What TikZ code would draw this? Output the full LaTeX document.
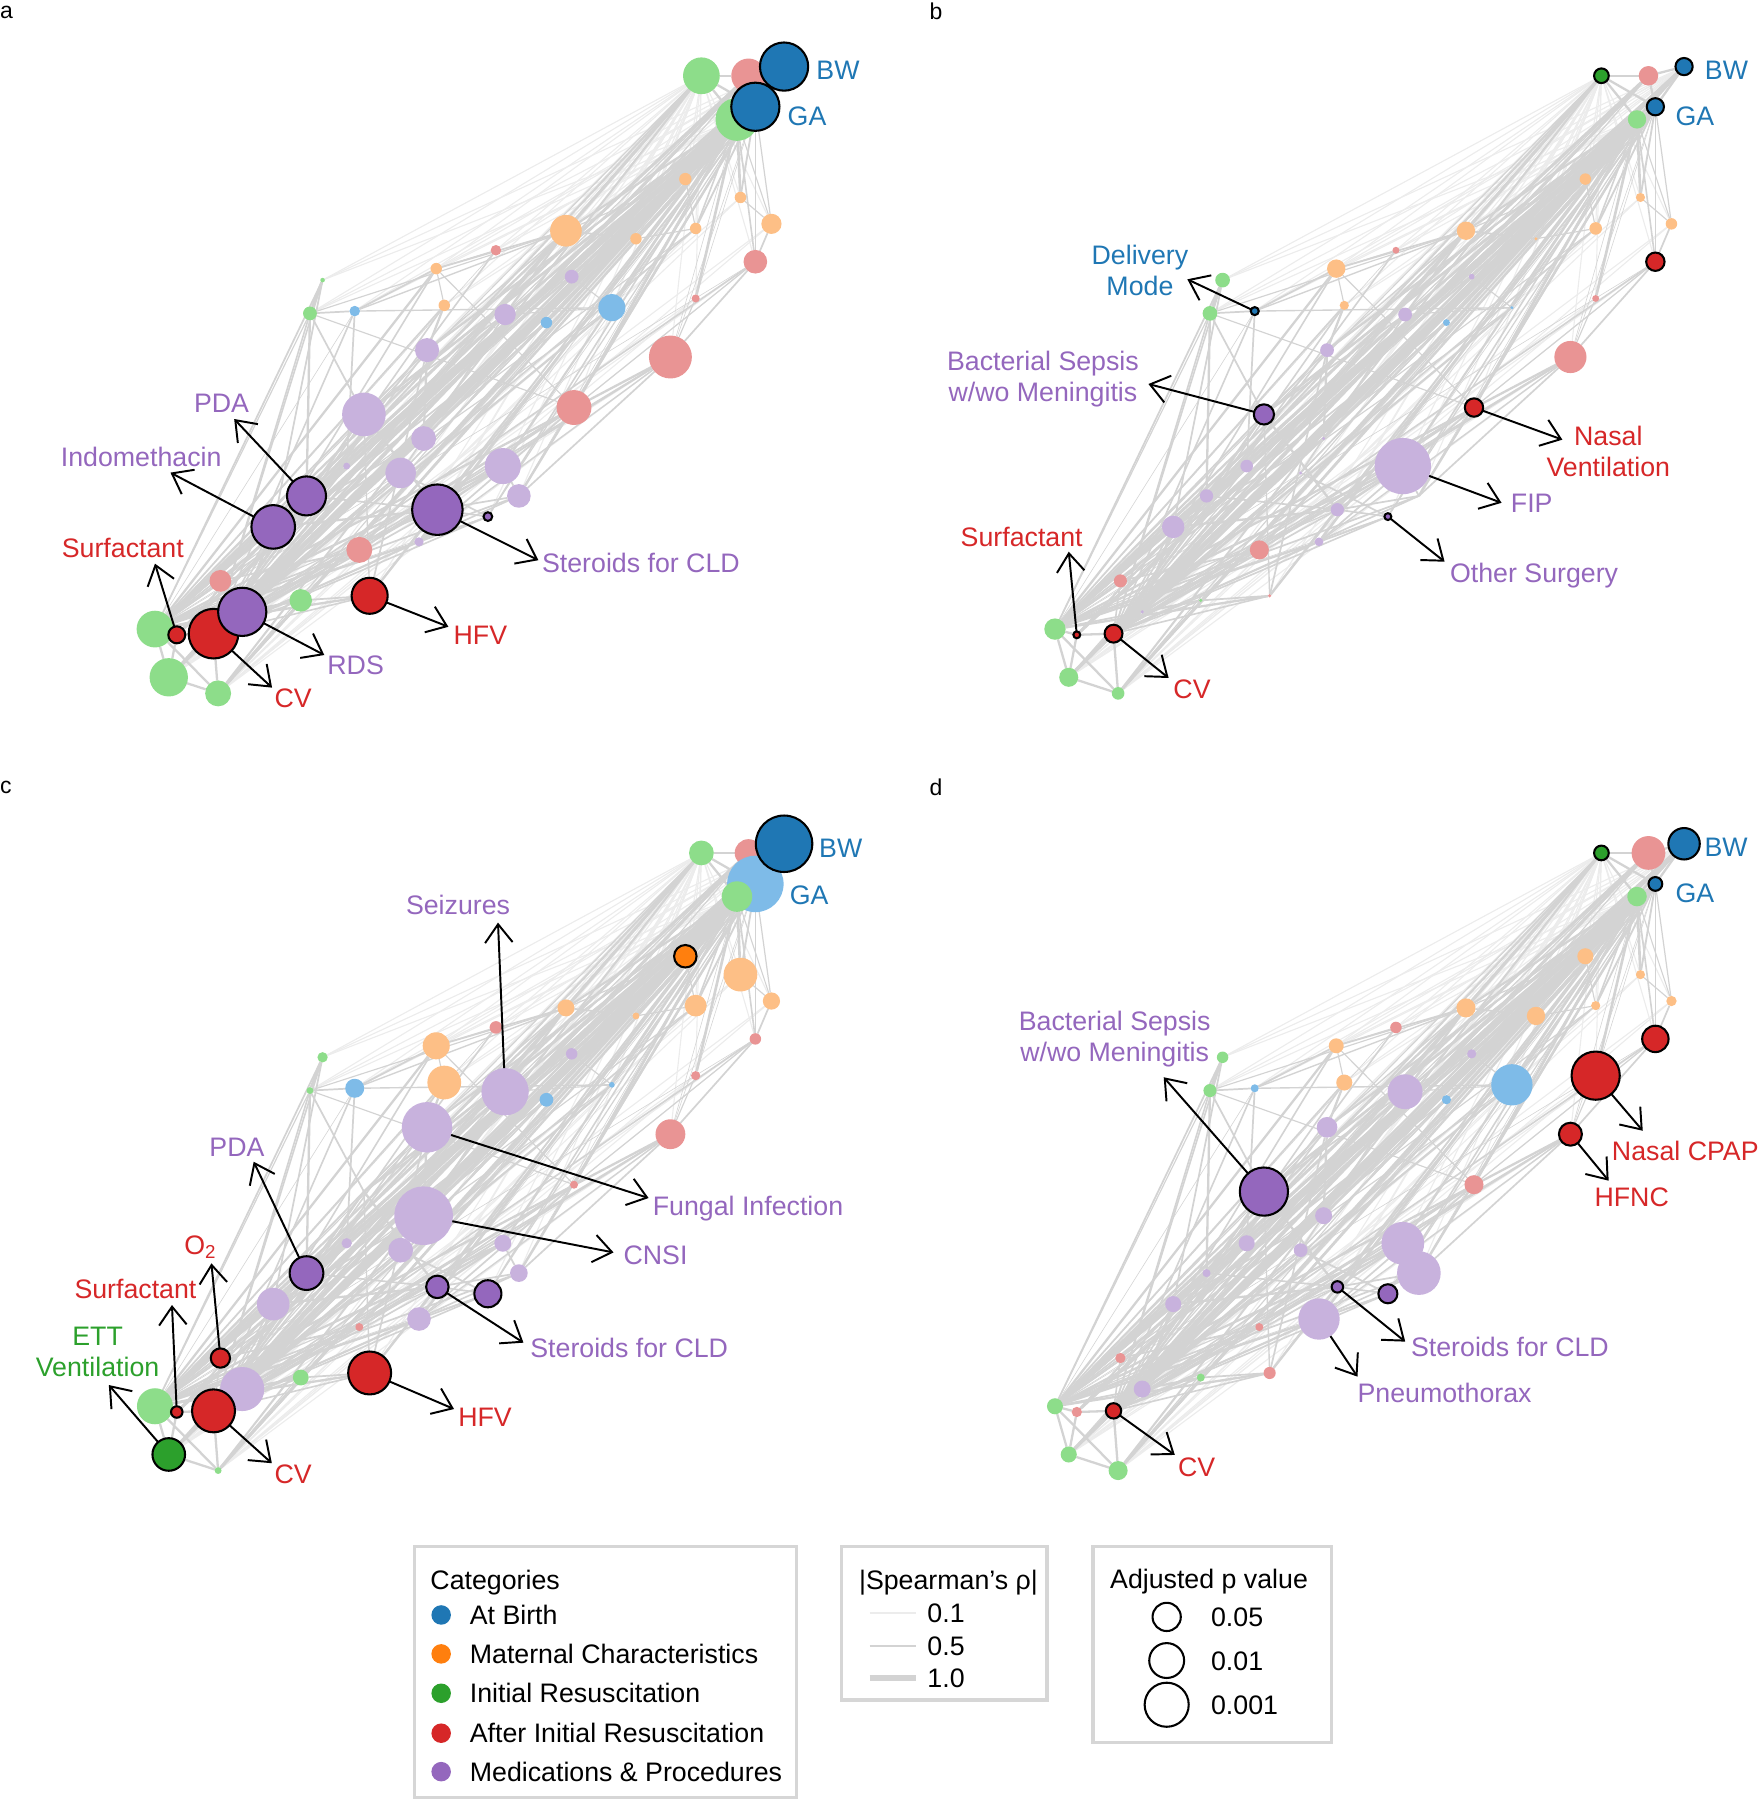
\documentclass[tikz,border=0pt]{standalone}
\usepackage{fontspec}
\setmainfont{Liberation Sans}
\usetikzlibrary{arrows.meta}
\pgfdeclarelayer{bg}
\pgfsetlayers{bg,main}
\definecolor{dB}{HTML}{1F77B4}
\definecolor{dO}{HTML}{FF7F0E}
\definecolor{dG}{HTML}{2CA02C}
\definecolor{dR}{HTML}{D62728}
\definecolor{dP}{HTML}{9467BD}
\definecolor{lB}{HTML}{7EBBE8}
\definecolor{lO}{HTML}{FDBF86}
\definecolor{lG}{HTML}{8DDD8A}
\definecolor{lR}{HTML}{E99494}
\definecolor{lP}{HTML}{C8B2DD}
\definecolor{edgeS}{HTML}{D3D3D3}
\definecolor{edgeF}{HTML}{ECECEC}
\definecolor{legc}{HTML}{D6D6D6}
\definecolor{tB}{HTML}{1F77B4}
\definecolor{tR}{HTML}{D62728}
\definecolor{tP}{HTML}{9467BD}
\definecolor{tG}{HTML}{2CA02C}

\newcommand\panelnodes[4]{%
  \foreach \ii/\kk/\rr/\hh in {#4} {%
    \ifnum\hh=0
      \node[nd, minimum size=2*\rr, fill=l\kk] (#1\ii) at ([shift={(#2,#3)}]base\ii) {};
    \fi
  }%
  \foreach \ii/\kk/\rr/\hh in {#4} {%
    \ifnum\hh=1
      \node[nd, minimum size=2*\rr, fill=d\kk, draw=black, line width=1.8pt] (#1\ii) at ([shift={(#2,#3)}]base\ii) {};
    \fi
  }%
}

\newcommand\netedges[1]{%
  \foreach \m in {6,...,42} {\draw[fedge] (#1\m) -- (#11);}
  \foreach \m in {12,13,14,18,19,20,9,21,24} {\draw[fedge] (#1\m) -- (#14); \draw[fedge] (#1\m) -- (#13);}
  \foreach \m in {6,7,8,10,11,16,17,25,32,23} {\draw[fedge] (#1\m) -- (#146); \draw[fedge] (#1\m) -- (#147);}
  \foreach \m in {6,7,8,9,10,11,15,16,17,21,22,23,24,25,26,27,28,29,30,31,32,33,34,35,36,37,38,39,40,41,42} {
    \pgfmathsetmacro\wa{0.5+mod(\m*7,5)*0.45}
    \pgfmathsetmacro\wb{0.5+mod(\m*3+1,4)*0.55}
    \draw[sedge,line width=\wa] (#1\m) -- (#14);
    \draw[sedge,line width=\wb] (#1\m) -- (#15);
  }
  \foreach \m in {9,12,13,14,15,18,19,20,21,22,23,24,26,27,28,29,30,31,32,33,34,35,36,37,38,39,40,41,42,25,16,6,11} {
    \pgfmathsetmacro\wc{0.5+mod(\m*5+2,5)*0.45}
    \pgfmathsetmacro\wd{0.5+mod(\m*11,4)*0.5}
    \draw[sedge,line width=\wc] (#1\m) -- (#145);
    \draw[sedge,line width=\wd] (#1\m) -- (#143);
  }
  \foreach \tp in {1,...,5} {\foreach \bt in {43,...,47} {
    \pgfmathsetmacro\we{1+mod(\tp*2+\bt,3)*0.8}
    \draw[sedge,line width=\we] (#1\tp) -- (#1\bt);}}
  \foreach \p/\q in {1/2,2/3,1/4,1/5,4/5,2/5,3/5,43/44,44/45,43/46,46/47,45/47,43/47,45/46,44/46} {\draw[sedge,line width=2] (#1\p) -- (#1\q);}
  \foreach \p/\q/\w in {9/13/1.5, 9/21/2, 9/24/1.2, 13/14/1, 13/20/1.5, 14/24/2, 20/19/1.5, 18/19/2.5, 19/26/1.5, 19/33/2, 18/34/1.5, 20/31/1.5, 12/13/1, 16/8/1.5, 16/25/1.5, 16/32/1, 25/38/1.5, 25/37/1.2, 25/30/1.5, 32/37/1.5, 32/38/1.2, 23/21/1, 23/15/1, 21/27/1.5, 24/27/2, 27/28/1.5, 28/36/1.5, 29/35/2, 30/35/1.5, 35/36/1.5, 26/33/2, 33/34/2, 34/42/2.5, 35/41/2, 41/40/1.5, 38/39/1.5, 40/42/2, 26/21/1.5, 22/28/1, 17/25/1, 11/10/1, 6/9/1, 6/11/1, 7/8/1, 10/9/1.5, 15/21/1, 31/33/1.5, 36/37/1.5, 29/30/1.5, 24/26/1.5, 26/35/2, 33/35/1.5, 34/35/2, 28/42/1.5, 27/34/1.5, 21/34/1, 9/42/1.5, 23/42/1.5, 24/41/1.5, 26/41/1.2, 32/42/1.5, 29/42/1.5, 20/9/1.2, 20/23/1.2, 19/9/1, 19/32/1, 13/32/1} {\draw[sedge,line width=\w] (#1\p) -- (#1\q);}
}

\begin{document}
\begin{tikzpicture}[x=1pt,y=-1pt,
  nd/.style={circle, inner sep=0pt, outer sep=0pt},
  sedge/.style={draw=edgeS},
  fedge/.style={draw=edgeF, line width=1pt},
  lab/.style={font=\fontsize{23.3}{27}\selectfont, inner sep=0pt},
  arr/.style={draw=black, line width=1.7pt, -{Straight Barb[length=16pt,width=24pt]}},
  legbox/.style={draw=legc, line width=3pt},
  letter/.style={font=\fontsize{20}{24}\selectfont, inner sep=0pt, anchor=base west}]
\useasboundingbox (0,0) rectangle (1532,1568);

\foreach \i/\x/\y in {1/611/66, 2/652/66, 3/683/58, 4/642/104, 5/658/93, 6/597/156, 7/645/172, 8/672/195, 9/493/201, 10/554/208, 11/606/199, 12/432/218, 13/380/234, 14/387/266, 15/498/241, 16/658/228, 17/606/260, 18/281/244, 19/270/273, 20/309/271, 21/440/274, 22/476/281, 23/533/268, 24/372/305, 25/584/311, 26/317/361, 27/369/382, 28/349/412, 29/438/406, 30/452/432, 31/302/406, 32/500/355, 33/267/432, 34/238/459, 35/381/444, 36/425/450, 37/365/472, 38/313/479, 39/192/506, 40/262/523, 41/322/519, 42/211/533, 43/135/548, 44/154/553, 45/186/552, 46/147/590, 47/190/604}
  {\coordinate (base\i) at (\x,\y);}

\panelnodes{a}{0}{0}{1/G/16/0, 2/R/15/0, 4/G/18.7/0, 3/B/21/1, 5/B/21/1, 6/O/5.4/0, 7/O/5/0, 8/O/8.8/0, 9/O/13.8/0, 10/O/5/0, 11/O/5/0, 12/R/4.6/0, 13/O/5/0, 14/O/5/0, 15/P/6/0, 16/R/10.3/0, 17/R/3.5/0, 18/G/2/0, 19/G/6/0, 20/B/4.6/0, 21/P/9.3/0, 22/B/5/0, 23/B/11.8/0, 24/P/10.5/0, 25/R/18.7/0, 26/P/19/0, 27/P/10.8/0, 28/P/13.3/0, 29/P/15.7/0, 30/P/10.3/0, 31/P/3/0, 32/R/15.2/0, 33/P/17/1, 34/P/19/1, 35/P/22/1, 36/P/3.8/1, 37/P/4/0, 38/R/11.3/0, 39/R/9.5/0, 40/G/9.8/0, 41/R/15.7/1, 43/G/16/0, 44/R/7.4/1, 45/R/21.6/1, 42/P/21/1, 46/G/16.7/0, 47/G/11.3/0}

\panelnodes{b}{784}{0}{1/G/6.4/1, 2/R/8.5/0, 4/G/8/0, 3/B/7.5/1, 5/B/7.5/1, 6/O/5/0, 7/O/4/0, 8/O/5/0, 9/O/8/0, 10/O/1.5/0, 11/O/5.5/0, 12/R/3/0, 13/O/8/0, 14/O/4/0, 15/P/2.5/0, 16/R/8/1, 17/R/3/0, 18/G/6.4/0, 19/G/6.4/0, 20/B/3.5/1, 21/P/6/0, 22/B/3/0, 23/B/1.5/0, 24/P/6/0, 25/R/14/0, 26/P/8.8/1, 27/P/1.5/0, 28/P/1.5/0, 29/P/24.5/0, 30/P/0/0, 31/P/5.5/0, 32/R/8/1, 33/P/5.8/0, 34/P/9.8/0, 35/P/5.8/0, 36/P/3/1, 37/P/3.8/0, 38/R/8.3/0, 39/R/5.7/0, 40/G/1.5/0, 41/R/1.5/0, 42/P/1.5/0, 43/G/9.3/0, 44/R/3/1, 45/R/7.8/1, 46/G/8.3/0, 47/G/5.5/0}

\panelnodes{c}{0}{677}{1/G/10.8/0, 2/R/12/0, 5/B/24.6/0, 4/G/13.3/0, 3/B/24.6/1, 6/O/9.8/1, 7/O/14.7/0, 8/O/7.5/0, 9/O/7.4/0, 10/O/3/0, 11/O/9.5/0, 12/R/5.5/0, 13/O/11.8/0, 14/O/14.7/0, 15/P/5/0, 16/R/5/0, 17/R/4/0, 18/G/4.5/0, 19/G/3/0, 20/B/8.3/0, 21/P/20.6/0, 22/B/6/0, 23/B/2.5/0, 24/P/22/0, 25/R/13/0, 26/P/0/0, 27/P/25.5/0, 28/P/10.8/0, 29/P/7.4/0, 30/P/7.7/0, 31/P/4.5/0, 32/R/3.5/0, 33/P/14.7/1, 34/P/14.2/0, 35/P/9.8/1, 36/P/11.8/1, 37/P/10.3/0, 38/R/3.5/0, 39/R/8.4/1, 40/G/6.9/0, 41/R/18.7/1, 42/P/19.2/0, 43/G/15.7/0, 44/R/5/1, 45/R/18.7/1, 46/G/14.2/1, 47/G/3/0}

\panelnodes{d}{784}{677}{1/G/6.4/1, 2/R/14.7/0, 4/G/8.5/0, 3/B/13.7/1, 5/B/6/1, 6/O/7/0, 7/O/4/0, 8/O/4.5/0, 9/O/8.3/0, 10/O/8/0, 11/O/4/0, 12/R/5/0, 13/O/6.5/0, 14/O/7/0, 15/P/4/0, 16/R/11.5/1, 17/R/21/1, 18/G/5/0, 19/G/5.7/0, 20/B/3.5/0, 21/P/15.2/0, 22/B/4/0, 23/B/18/0, 24/P/9/0, 25/R/10/1, 26/P/21/1, 27/P/7.4/0, 28/P/6/0, 29/P/18.6/0, 30/P/19/0, 31/P/7/0, 32/R/8.3/0, 33/P/3.5/0, 34/P/7/0, 35/P/5/1, 36/P/8.3/1, 37/P/18/0, 38/R/3.5/0, 39/R/4.5/0, 40/G/3.5/0, 41/R/5.3/0, 42/P/7.4/0, 43/G/7/0, 44/R/4.5/0, 45/R/6.7/1, 46/G/7/0, 47/G/8.3/0}

\begin{pgfonlayer}{bg}
\netedges{a}
\netedges{b}
\netedges{c}
\netedges{d}
\end{pgfonlayer}

% panel letters
\node[letter] (la) at (0,16) {a};
\node[letter] (lb) at (809.5,16.8) {b};
\node[letter] (lc) at (0,691.6) {c};
\node[letter] (ld) at (809.5,693) {d};

% ---------- panel a labels
\node[lab,text=tB,anchor=base west] (aBW) at (711,69.4) {BW};
\node[lab,text=tB,anchor=base west] (aGA) at (686,109.4) {GA};
\node[lab,text=tP,anchor=base] (aLpda) at (193,359.4) {PDA};
\node[lab,text=tP,anchor=base] (aLindo) at (123,406.4) {Indomethacin};
\node[lab,text=tP,anchor=base west] (aLster) at (472,498.4) {Steroids for CLD};
\node[lab,text=tR,anchor=base] (aLsurf) at (107,485.4) {Surfactant};
\node[lab,text=tR,anchor=base west] (aLhfv) at (395,561.4) {HFV};
\node[lab,text=tP,anchor=base west] (aLrds) at (285,587.4) {RDS};
\node[lab,text=tR,anchor=base west] (aLcv) at (239,616.4) {CV};
\coordinate (aT33) at (204,365);
\coordinate (aT34) at (148.5,411.7);
\coordinate (aT35) at (469,488);
\coordinate (aT44) at (135,491);
\coordinate (aT41) at (390.6,546);
\coordinate (aT42) at (282.5,570.6);
\coordinate (aT45) at (237,599);
\foreach \n in {33,34,35,44,41,42,45} {\draw[arr] (a\n) -- (aT\n);}

% ---------- panel b labels
\node[lab,text=tB,anchor=base west] (bBW) at (1485,69.4) {BW};
\node[lab,text=tB,anchor=base west] (bGA) at (1459.4,109.4) {GA};
\node[lab,text=tB,align=center] (bLdm) at (993,235.5) {Delivery\\Mode};
\node[lab,text=tP,align=center] (bLbs) at (908.5,330) {Bacterial Sepsis\\w/wo Meningitis};
\node[lab,text=tR,align=center] (bLnv) at (1401,393) {Nasal\\Ventilation};
\node[lab,text=tP,anchor=base west] (bLfip) at (1316,446.4) {FIP};
\node[lab,text=tP,anchor=base west] (bLos) at (1263,507.4) {Other Surgery};
\node[lab,text=tR,anchor=base] (bLsurf) at (890,476.4) {Surfactant};
\node[lab,text=tR,anchor=base west] (bLcv) at (1022,608.4) {CV};
\coordinate (bT20) at (1034.3,243.3);
\coordinate (bT26) at (1000.4,334.5);
\coordinate (bT32) at (1361,383);
\coordinate (bT29) at (1308,438);
\coordinate (bT36) at (1258.4,489.3);
\coordinate (bT44) at (931,480.6);
\coordinate (bT45) at (1018,590.6);
\foreach \n in {20,26,32,29,36,44,45} {\draw[arr] (b\n) -- (bT\n);}

% ---------- panel c labels
\node[lab,text=tB,anchor=base west] (cBW) at (713.4,746.8) {BW};
\node[lab,text=tB,anchor=base west] (cGA) at (687.8,788) {GA};
\node[lab,text=tP,anchor=base] (cLsz) at (399,796.4) {Seizures};
\node[lab,text=tP,anchor=base west] (cLfi) at (568.5,1059) {Fungal Infection};
\node[lab,text=tP,anchor=base west] (cLcnsi) at (543,1101.4) {CNSI};
\node[lab,text=tP,anchor=base west] (cLster) at (461.8,1182.4) {Steroids for CLD};
\node[lab,text=tR,anchor=base west] (cLhfv) at (399,1242.4) {HFV};
\node[lab,text=tR,anchor=base west] (cLcv) at (239,1292.4) {CV};
\node[lab,text=tP,anchor=base] (cLpda) at (206.4,1007.3) {PDA};
\node[lab,text=tR,anchor=base] (cLo2) at (174.4,1092.4) {O\textsubscript{2}};
\node[lab,text=tR,anchor=base] (cLsurf) at (118,1131.4) {Surfactant};
\node[lab,text=tG,align=center] (cLett) at (85,1178) {ETT\\Ventilation};
\coordinate (cT21) at (433.8,803.7);
\coordinate (cT24) at (565,1043.6);
\coordinate (cT27) at (534.5,1091);
\coordinate (cT35) at (456,1169.6);
\coordinate (cT41) at (395.5,1227.4);
\coordinate (cT45) at (236.8,1274.6);
\coordinate (cT33) at (221,1012);
\coordinate (cT39) at (184.2,1100.5);
\coordinate (cT44) at (149.8,1136.8);
\coordinate (cT46) at (94.8,1206.5);
\foreach \n in {21,24,27,35,41,45,33,39,44,46} {\draw[arr] (c\n) -- (cT\n);}

% ---------- panel d labels
\node[lab,text=tB,anchor=base west] (dBW) at (1484.7,745.9) {BW};
\node[lab,text=tB,anchor=base west] (dGA) at (1459.4,786.4) {GA};
\node[lab,text=tP,align=center] (dLbs) at (971,904.8) {Bacterial Sepsis\\w/wo Meningitis};
\node[lab,text=tR,anchor=base west] (dLncpap) at (1404,1010.8) {Nasal CPAP};
\node[lab,text=tR,anchor=base] (dLhfnc) at (1421.4,1050.8) {HFNC};
\node[lab,text=tP,anchor=base west] (dLster) at (1229,1181.4) {Steroids for CLD};
\node[lab,text=tP,anchor=base] (dLpneu) at (1258.4,1221.6) {Pneumothorax};
\node[lab,text=tR,anchor=base west] (dLcv) at (1026,1286) {CV};
\coordinate (dT26) at (1013.7,938.4);
\coordinate (dT17) at (1431,985);
\coordinate (dT25) at (1401.3,1028.5);
\coordinate (dT35) at (1224.1,1168.7);
\coordinate (dT37) at (1182.5,1199.2);
\coordinate (dT45) at (1023.4,1267.4);
\foreach \n in {26,17,25,35,37,45} {\draw[arr] (d\n) -- (dT\n);}

% ---------- legends
\draw[legbox] (361,1347) rectangle (694,1566);
\draw[legbox] (733,1347) rectangle (912,1481);
\draw[legbox] (952,1347) rectangle (1160,1518);

\node[lab,anchor=base west] (lgT1) at (374.8,1384.4) {Categories};
\foreach \k/\yy/\txt in {B/1406.8/At Birth, O/1440.7/Maternal Characteristics, G/1475/Initial Resuscitation, R/1509.8/After Initial Resuscitation, P/1543.3/Medications \& Procedures} {
  \node[nd, minimum size=17, fill=d\k] (lgd\k) at (384.3,\yy) {};
  \node[lab,anchor=base west] (lgt\k) at (409.1,\yy+8.4) {\txt};
}

\node[lab,anchor=base] (lgT2) at (826.2,1384.4) {|Spearman’s ρ|};
\draw[draw=edgeF, line width=1.2pt] (757.6,1405) -- (798.2,1405);
\draw[draw=edgeS, line width=2.5pt] (757.6,1433.8) -- (798.2,1433.8);
\draw[draw=edgeS, line width=5.2pt] (757.6,1462) -- (798.2,1462);
\node[lab,anchor=base west] (lgs1) at (807.7,1413.4) {0.1};
\node[lab,anchor=base west] (lgs2) at (807.7,1442.2) {0.5};
\node[lab,anchor=base west] (lgs3) at (807.7,1470.4) {1.0};

\node[lab,anchor=base] (lgT3) at (1053.2,1383.4) {Adjusted p value};
\node[nd, draw=black, line width=1.8pt, minimum size=24.6] (lgc1) at (1016.3,1408.5) {};
\node[nd, draw=black, line width=1.8pt, minimum size=30.4] (lgc2) at (1016.3,1446.5) {};
\node[nd, draw=black, line width=1.8pt, minimum size=38.4] (lgc3) at (1016.3,1485) {};
\node[lab,anchor=base west] (lgp1) at (1054.8,1416.9) {0.05};
\node[lab,anchor=base west] (lgp2) at (1054.8,1454.9) {0.01};
\node[lab,anchor=base west] (lgp3) at (1054.8,1493.4) {0.001};
\end{tikzpicture}
\end{document}
